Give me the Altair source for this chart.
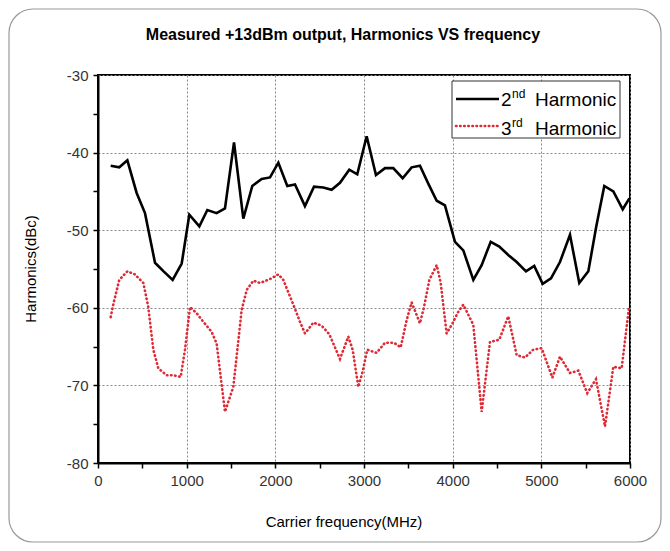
import altair as alt
import pandas as pd

# 2nd harmonic (black solid)
freq_2nd = [143, 240, 331, 436, 530, 643, 740, 842, 944, 1030, 1143, 1233, 1338, 1432, 1534, 1639,
            1740, 1846, 1940, 2034, 2135, 2222, 2334, 2436, 2541, 2635, 2729, 2834, 2924, 3030,
            3135, 3237, 3330, 3436, 3537, 3631, 3725, 3820, 3913, 4026, 4120, 4233, 4327, 4429,
            4526, 4627, 4722, 4827, 4920, 5015, 5109, 5210, 5323, 5428, 5530, 5620, 5710, 5812,
            5918, 5993]
dbc_2nd = [-41.7, -41.9, -41.0, -45.2, -47.8, -54.2, -55.3, -56.4, -54.3, -48.0, -49.5, -47.4,
           -47.8, -47.2, -38.7, -48.5, -44.3, -43.4, -43.2, -41.3, -44.3, -44.1, -46.9, -44.4,
           -44.5, -44.8, -43.9, -42.2, -42.8, -37.9, -42.9, -42.0, -42.0, -43.3, -41.9, -41.7,
           -44.0, -46.2, -46.8, -51.5, -52.6, -56.4, -54.5, -51.5, -52.1, -53.2, -54.1, -55.3,
           -54.6, -56.9, -56.2, -54.1, -50.6, -56.8, -55.3, -49.5, -44.3, -45.0, -47.3, -45.9]

# 3rd harmonic (red dotted)
freq_3rd = [143, 180, 240, 331, 417, 511, 567, 624, 680, 775, 849, 933, 981, 1038, 1113, 1188,
            1282, 1338, 1432, 1526, 1620, 1677, 1752, 1827, 1940, 2034, 2090, 2203, 2278, 2334,
            2383, 2429, 2522, 2609, 2729, 2823, 2872, 2936, 2985, 3037, 3142, 3237, 3338, 3414,
            3481, 3537, 3631, 3677, 3737, 3820, 3865, 3932, 3989, 4064, 4120, 4233, 4327, 4421,
            4526, 4627, 4722, 4816, 4909, 5004, 5124, 5210, 5323, 5417, 5518, 5616, 5718, 5812,
            5906, 5989]
dbc_3rd = [-61.2, -59.2, -56.4, -55.3, -55.7, -56.8, -59.9, -65.4, -67.8, -68.7, -68.7, -68.9,
           -65.4, -59.9, -60.7, -61.8, -63.1, -64.6, -73.4, -70.2, -60.3, -57.7, -56.5, -56.8,
           -56.3, -55.7, -56.4, -59.6, -61.8, -63.3, -62.6, -61.9, -62.3, -63.4, -66.6, -63.7,
           -65.4, -70.2, -68.2, -65.4, -65.8, -64.5, -64.5, -65.1, -61.6, -59.3, -62.0, -59.9,
           -56.4, -54.5, -56.8, -63.3, -62.2, -60.5, -59.6, -62.2, -73.4, -64.4, -64.1, -61.1,
           -66.1, -66.4, -65.4, -65.2, -69.0, -66.3, -68.4, -68.1, -71.0, -69.2, -75.3, -67.6,
           -67.8, -59.9]

x_ticks = list(range(0, 6001, 500))
y_ticks = list(range(-80, -29, 5))

title_text = "Measured +13dBm output, Harmonics VS frequency"
x_title = "Carrier frequency(MHz)"
y_title = "Harmonics(dBc)"

df2 = pd.DataFrame({"f": freq_2nd, "v": dbc_2nd})
df3 = pd.DataFrame({"f": freq_3rd, "v": dbc_3rd})
one = pd.DataFrame({"a": [0]})

FONT = "Liberation Sans"
RED = "#dd2a35"

grid_cond_x = {"condition": {"test": "datum.value % 1000 === 0", "value": 1}, "value": 0}
grid_cond_y = {"condition": {"test": "datum.value % 10 === 0", "value": 1}, "value": 0}

x_axis = alt.Axis(values=x_ticks,
                  labelExpr="datum.value % 1000 === 0 ? '' + datum.value : ''",
                  grid=True, gridOpacity=grid_cond_x, gridDash=[2, 2], gridColor="#888",
                  gridWidth=1, domainColor="black", domainWidth=2, tickColor="black",
                  tickWidth=1.5, tickSize=5, labelFontSize=15, labelColor="#333",
                  labelFont=FONT, labelPadding=5, title=None, labelFlush=False)
y_axis = alt.Axis(values=y_ticks,
                  labelExpr="datum.value % 10 === 0 ? '' + datum.value : ''",
                  grid=True, gridOpacity=grid_cond_y, gridDash=[2, 2], gridColor="#888",
                  gridWidth=1, domainColor="black", domainWidth=2, tickColor="black",
                  tickWidth=1.5, tickSize=5, labelFontSize=15, labelColor="#333",
                  labelFont=FONT, labelPadding=5, title=None, labelFlush=False)

xs = alt.Scale(domain=[0, 6000], nice=False)
ys = alt.Scale(domain=[-80, -30], nice=False)

frame = alt.Chart(one).mark_rect(fillOpacity=0, stroke="#999", strokeWidth=1.2,
                                 cornerRadius=24).encode(
    x=alt.value(-89), x2=alt.value(563), y=alt.value(-66), y2=alt.value(467))

line2 = alt.Chart(df2).mark_line(color="black", strokeWidth=2.6).encode(
    x=alt.X("f:Q", scale=xs, axis=x_axis), y=alt.Y("v:Q", scale=ys, axis=y_axis))
line3 = alt.Chart(df3).mark_line(color=RED, strokeWidth=2.6, strokeDash=[0.5, 3.6],
                                 strokeCap="round").encode(
    x=alt.X("f:Q", scale=xs, axis=x_axis), y=alt.Y("v:Q", scale=ys, axis=y_axis))

title = alt.Chart(one).mark_text(text=title_text, font=FONT, fontSize=16, fontWeight="bold",
                                 color="black", align="center", baseline="alphabetic").encode(
    x=alt.value(245), y=alt.value(-35))
xt = alt.Chart(one).mark_text(text=x_title, font=FONT, fontSize=15, color="black",
                              align="center", baseline="middle").encode(
    x=alt.value(246), y=alt.value(447))
yt = alt.Chart(one).mark_text(text=y_title, font=FONT, fontSize=15, color="black",
                              align="center", baseline="middle", angle=270).encode(
    x=alt.value(-67), y=alt.value(194))

# legend
leg_box = alt.Chart(one).mark_rect(fill="white", stroke="#333", strokeWidth=1).encode(
    x=alt.value(354), x2=alt.value(522), y=alt.value(6), y2=alt.value(63))
leg_l2 = alt.Chart(one).mark_rule(color="black", strokeWidth=2.6).encode(
    x=alt.value(358), x2=alt.value(401), y=alt.value(24))
leg_l3 = alt.Chart(one).mark_rule(color=RED, strokeWidth=2.6, strokeDash=[0.5, 3.6],
                                  strokeCap="round").encode(
    x=alt.value(358), x2=alt.value(401), y=alt.value(51))

def txt(t, x, y, size):
    return alt.Chart(one).mark_text(text=t, font=FONT, fontSize=size, color="black",
                                    align="left", baseline="alphabetic").encode(
        x=alt.value(x), y=alt.value(y))

leg_texts = [txt("2", 403, 31, 19), txt("nd", 414, 23, 12), txt("Harmonic", 437, 31, 19),
             txt("3", 403, 60, 19), txt("rd", 414, 52, 12), txt("Harmonic", 437, 60, 19)]

chart = alt.layer(frame, line2, line3, title, xt, yt, leg_box, leg_l2, leg_l3,
                  *leg_texts).properties(
    width=532, height=388,
    autosize=alt.AutoSizeParams(type="none"),
    padding={"left": 90, "top": 67, "right": 32, "bottom": 80},
    background="white",
).configure_view(stroke="black", strokeWidth=2)

chart.save("out.html", embed_options={"renderer": "svg", "actions": False})
